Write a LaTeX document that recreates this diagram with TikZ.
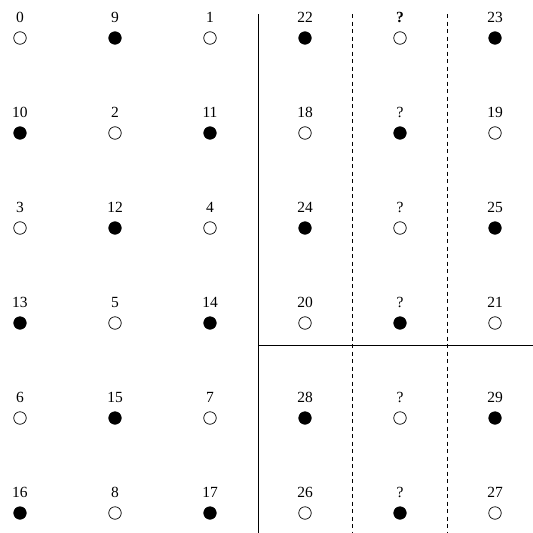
\documentclass[tikz,border=0pt]{standalone}
\usepackage{fontspec}
\setmainfont{Liberation Serif}
\begin{document}
\begin{tikzpicture}[x=1pt,y=-1pt,
  dotopen/.style={circle,draw=black,line width=0.7pt,fill=white,minimum size=12.5pt,inner sep=0pt},
  dotfull/.style={circle,draw=black,line width=0.7pt,fill=black,minimum size=12.5pt,inner sep=0pt},
  lab/.style={anchor=base,inner sep=0pt,font=\fontsize{15.5}{17}\selectfont},
  solidline/.style={line width=0.8pt,draw=black},
  dashline/.style={line width=0.8pt,draw=black,dash pattern=on 4pt off 3.5pt}]
\useasboundingbox (0,0) rectangle (533,533);
\foreach \r/\row in {0/{0,9,1,22,\textbf{?},23},1/{10,2,11,18,?,19},2/{3,12,4,24,?,25},3/{13,5,14,20,?,21},4/{6,15,7,28,?,29},5/{16,8,17,26,?,27}}{
  \foreach \txt [count=\cc from 0] in \row {
    \pgfmathsetmacro{\xx}{20+95*\cc}
    \pgfmathsetmacro{\yy}{38+95*\r}
    \pgfmathtruncatemacro{\parity}{mod(\r+\cc,2)}
    \ifnum\parity=1
      \node[dotfull] (c-\r-\cc) at (\xx,\yy) {};
    \else
      \node[dotopen] (c-\r-\cc) at (\xx,\yy) {};
    \fi
    \node[lab] (l-\r-\cc) at (\xx,\yy-15.5) {\txt};
  }
}
\coordinate (vt) at (258,14);
\coordinate (vb) at (258,533);
\coordinate (hl) at (258,345);
\coordinate (hr) at (533,345);
\coordinate (d1t) at (352.5,14);
\coordinate (d1b) at (352.5,533);
\coordinate (d2t) at (447.5,14);
\coordinate (d2b) at (447.5,533);
\draw[solidline] (vt) -- (vb);
\draw[solidline] (hl) -- (hr);
\draw[dashline] (d1t) -- (d1b);
\draw[dashline] (d2t) -- (d2b);
\end{tikzpicture}
\end{document}
